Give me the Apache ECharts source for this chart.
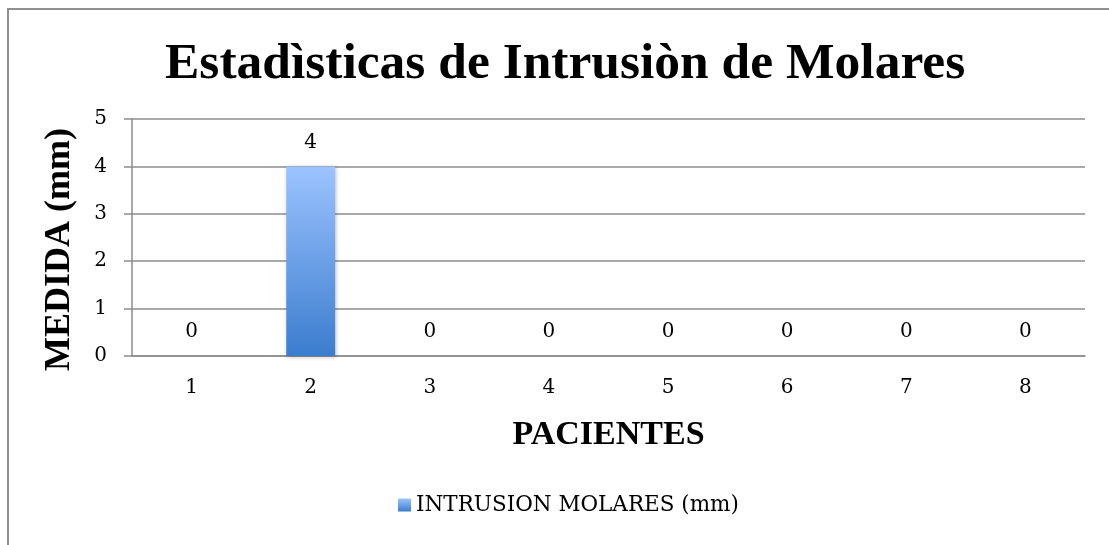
<!doctype html>
<html lang="es">
<head>
    <meta charset="UTF-8">
    <script src="https://cdn.jsdelivr.net/npm/echarts@6/dist/echarts.min.js"></script>
    <title>Estadìsticas de Intrusiòn de Molares</title>
    <style>
        body { margin: 0; background: #fff; overflow: hidden; }
        #frame { position: absolute; left: 7px; top: 8px; width: 1300px; height: 700px; border: 2px solid #8f8f8f; }
        #main { position: absolute; left: 0; top: 0; width: 1109px; height: 545px; }
    </style>
</head>
<body>
<div id="frame"></div>
<div id="main"></div>
<script>
    // datos del gráfico
    var pacientes = ['1', '2', '3', '4', '5', '6', '7', '8'];
    var intrusion = [0, 4, 0, 0, 0, 0, 0, 0];
    var serieNombre = 'INTRUSION MOLARES (mm)';

    var serif = 'DejaVu Serif';
    var serifEstrecha = 'Liberation Serif';
    var barColor = new echarts.graphic.LinearGradient(0, 0, 0, 1, [
        {offset: 0, color: '#9cc3ff'},
        {offset: 1, color: '#3b7dce'}
    ]);

    var myChart = echarts.init(document.getElementById('main'));
    var option = {
        animation: false,
        title: {
            text: 'Estadìsticas de Intrusiòn de Molares',
            left: 160,
            top: 34,
            textStyle: {fontFamily: serifEstrecha, fontWeight: 'bold', fontSize: 51.5, color: '#000'}
        },
        legend: {
            bottom: 24,
            left: 393,
            itemWidth: 13,
            itemHeight: 13,
            itemGap: 7,
            textStyle: {fontFamily: serif, fontSize: 21.5, color: '#000'},
            data: [{name: serieNombre, icon: 'rect'}]
        },
        grid: {left: 132, right: 24, top: 119, bottom: 189},
        xAxis: {
            type: 'category',
            data: pacientes,
            name: 'PACIENTES',
            nameLocation: 'middle',
            nameGap: 62,
            nameTextStyle: {fontFamily: serifEstrecha, fontWeight: 'bold', fontSize: 34, color: '#000'},
            axisLine: {lineStyle: {color: '#8c8c8c', width: 1.5}},
            axisTick: {length: 6, lineStyle: {color: '#8c8c8c', width: 1.5}},
            axisLabel: {fontFamily: serif, fontSize: 20, color: '#000', margin: 22}
        },
        yAxis: {
            type: 'value',
            min: 0,
            max: 5,
            interval: 1,
            name: 'MEDIDA (mm)',
            nameLocation: 'middle',
            nameGap: 54,
            nameTextStyle: {fontFamily: serifEstrecha, fontWeight: 'bold', fontSize: 36, color: '#000', padding: [0, 24, 0, 0]},
            axisLine: {show: true, lineStyle: {color: '#8c8c8c', width: 1.5}},
            axisTick: {show: true, length: 8, lineStyle: {color: '#8c8c8c', width: 1.5}},
            axisLabel: {fontFamily: serif, fontSize: 20, color: '#000', margin: 25},
            splitLine: {lineStyle: {color: '#8c8c8c', width: 1.5}}
        },
        series: [{
            name: serieNombre,
            type: 'bar',
            data: intrusion,
            barWidth: '41%',
            itemStyle: {color: barColor, shadowBlur: 4, shadowColor: 'rgba(0,0,0,0.25)', shadowOffsetX: 1, shadowOffsetY: 1},
            label: {show: true, position: 'top', distance: 14, fontFamily: serif, fontSize: 20, color: '#000'}
        }]
    };
    myChart.setOption(option);
</script>
</body>
</html>
